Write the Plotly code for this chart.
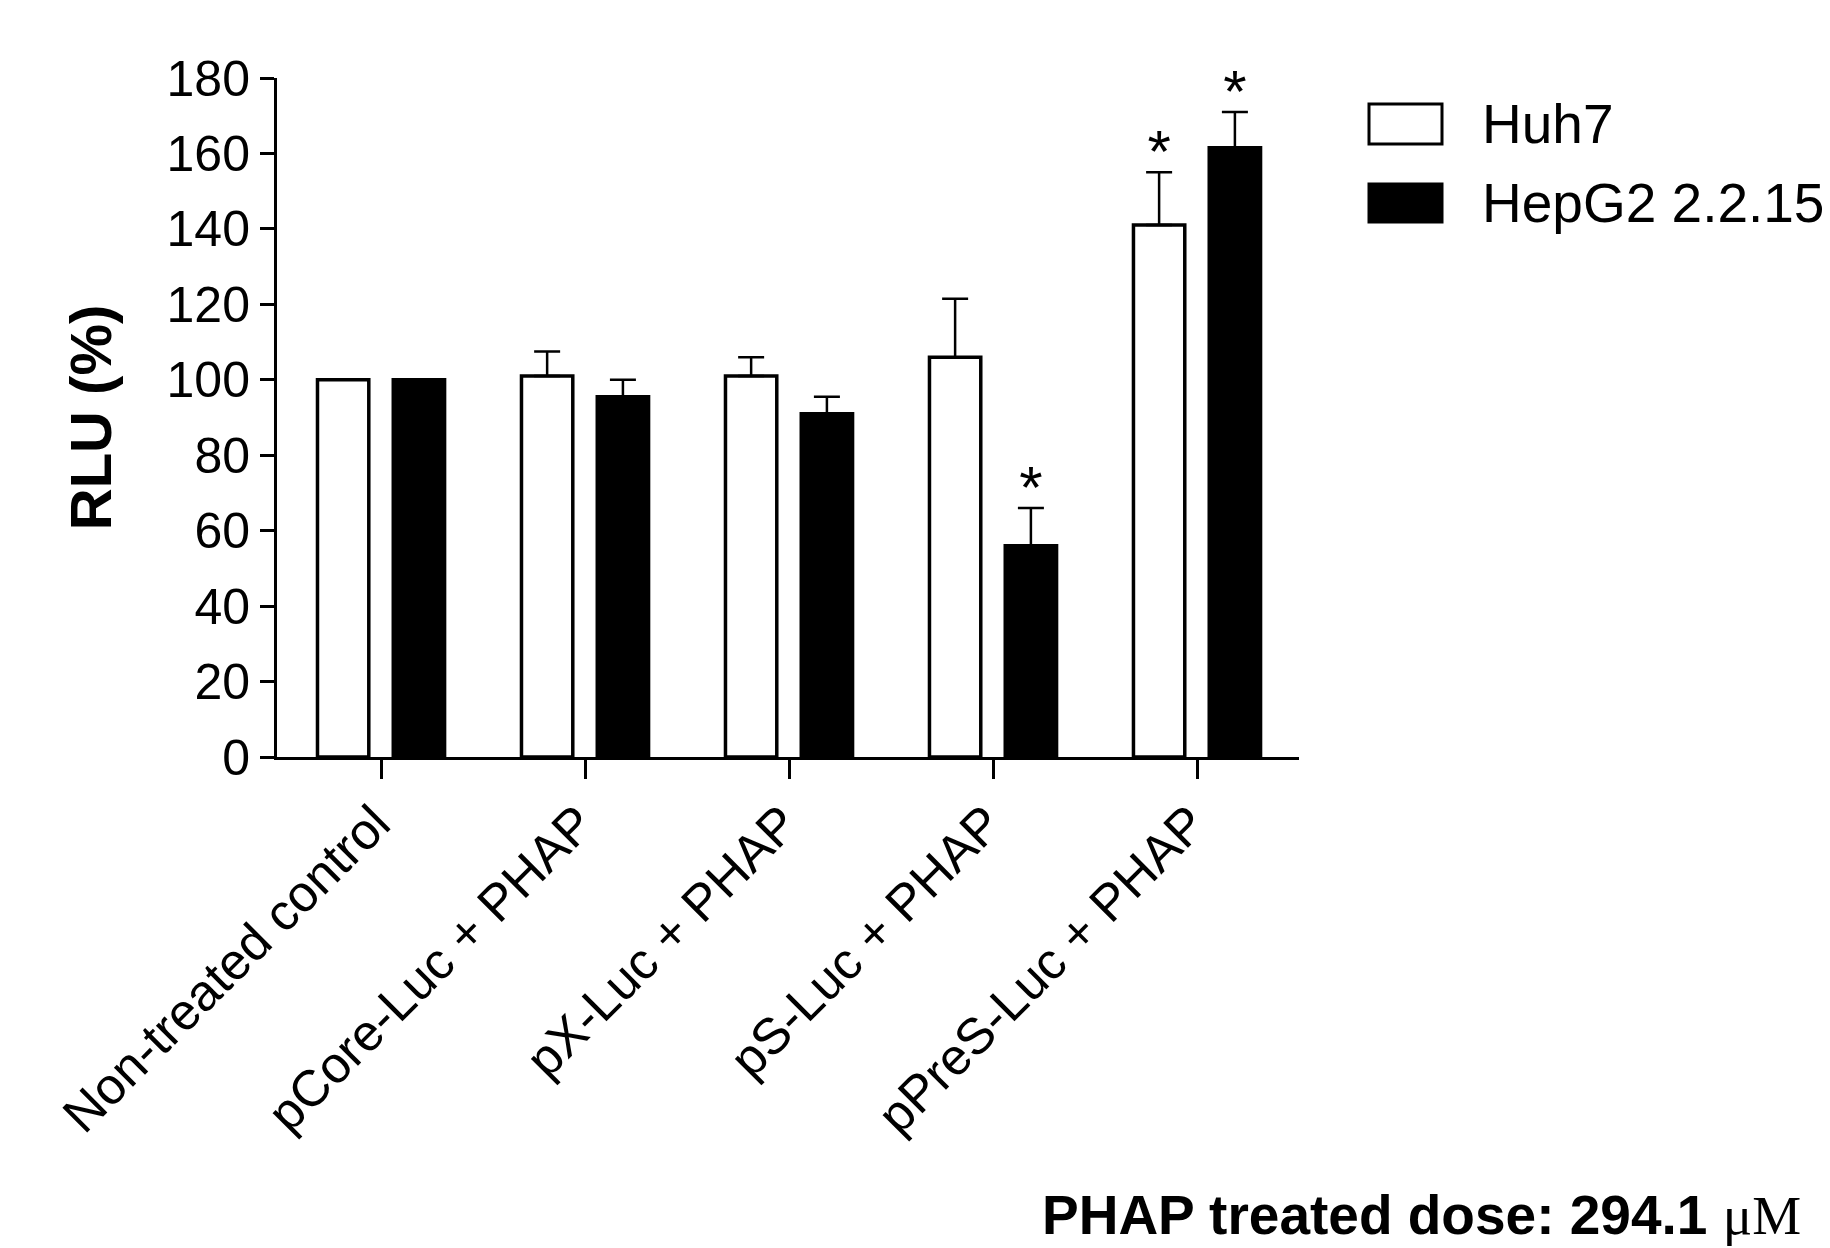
import plotly.graph_objects as go

# ---- data ----
categories = ["Non-treated control", "pCore-Luc + PHAP", "pX-Luc + PHAP",
              "pS-Luc + PHAP", "pPreS-Luc + PHAP"]
series_names = ["Huh7", "HepG2 2.2.15"]
huh7 = [100, 101, 101, 106, 141]
huh7_err = [None, 6.5, 5, 15.5, 14]
hepg2 = [100, 95.5, 91, 56, 161.5]
hepg2_err = [None, 4.5, 4.5, 10, 9.5]
huh7_sig = [False, False, False, False, True]
hepg2_sig = [False, False, False, True, True]
y_ticks = [0, 20, 40, 60, 80, 100, 120, 140, 160, 180]
y_title = "RLU (%)"
dose_note = "PHAP treated dose: 294.1 "
dose_unit = "μM"
star_gap = 4  # gap above error bar for significance marks (data units)

FONT = "Liberation Sans, Arial, sans-serif"
OFF = 8  # page body margin
W, H = 1830 - OFF, 1248 - OFF
ML, MT = 277 - OFF, 78 - OFF
PW, PH = 1022, 679
MR = W - ML - PW
MB = H - MT - PH

fig = go.Figure()

fills = ["white", "black"]
values = [huh7, hepg2]
errors = [huh7_err, hepg2_err]
sigs = [huh7_sig, hepg2_sig]

for i in range(2):
    fig.add_trace(go.Bar(
        x=categories, y=values[i], name=series_names[i],
        offsetgroup=str(i),
        marker=dict(color=fills[i], line=dict(color="black", width=3.5)),
        error_y=dict(type="data", array=errors[i], symmetric=False,
                     arrayminus=[0] * len(categories),
                     color="black", thickness=2.5, width=13),
        showlegend=False,
    ))

for i in range(2):
    ys = []
    txt = []
    for v, e, s in zip(values[i], errors[i], sigs[i]):
        if s:
            ys.append(v + (e or 0) + star_gap)
            txt.append("*")
        else:
            ys.append(None)
            txt.append("")
    fig.add_trace(go.Scatter(
        x=categories, y=ys, mode="text", text=txt,
        textposition="middle center", offsetgroup=str(i),
        textfont=dict(family=FONT, size=60, color="black"),
        showlegend=False, cliponaxis=False,
    ))

# legend drawn as large swatches like the original (positions in page px)
def px_x(x):
    return (x - OFF - ML) / PW
def px_y(y):
    return (MT + PH - (y - OFF)) / PH

legend_rows = [(104, 144, 124), (184, 222, 203)]
for i, (y0, y1, yc) in enumerate(legend_rows):
    fig.add_shape(type="rect", xref="paper", yref="paper",
                  x0=px_x(1369), x1=px_x(1442), y0=px_y(y1), y1=px_y(y0),
                  fillcolor=fills[i], line=dict(color="black", width=3))
    fig.add_annotation(xref="paper", yref="paper", x=px_x(1480), y=px_y(yc),
                       text=series_names[i], showarrow=False,
                       xanchor="left", yanchor="middle",
                       font=dict(family=FONT, size=55, color="black"))

fig.add_annotation(xref="paper", yref="paper", x=px_x(1803), y=px_y(1248),
                   text="<b>" + dose_note + "</b><span style=\"font-family:Liberation Serif\">" + dose_unit + "</span>",
                   showarrow=False, xanchor="right", yanchor="bottom",
                   font=dict(family=FONT, size=55, color="black"))

fig.update_layout(
    width=W, height=H,
    margin=dict(l=ML, r=MR, t=MT, b=MB, pad=0),
    template="none",
    paper_bgcolor="white", plot_bgcolor="white",
    barmode="group", bargap=0.257, bargroupgap=0.323,
    scattermode="group", scattergap=0.257,
    showlegend=False,
    font=dict(family=FONT, color="black"),
)
fig.update_xaxes(
    range=[-0.51, 4.5], showgrid=False, zeroline=False, automargin=False,
    showline=True, linecolor="black", linewidth=3,
    ticks="outside", ticklen=19, tickwidth=3, tickcolor="black",
    tickangle=-45, tickfont=dict(family=FONT, size=51, color="black"),
    ticklabelstandoff=-6, ticklabelshift=-6,
)
fig.update_yaxes(
    range=[0, 180], tickvals=y_ticks, showgrid=False, zeroline=False,
    automargin=False, showline=True, linecolor="black", linewidth=3,
    ticks="outside", ticklen=14, tickwidth=3, tickcolor="black",
    tickfont=dict(family=FONT, size=50, color="black"),
    title=dict(text="<b>" + y_title + "</b>", standoff=37,
               font=dict(family=FONT, size=58, color="black")),
)

fig.write_html("out.html")
